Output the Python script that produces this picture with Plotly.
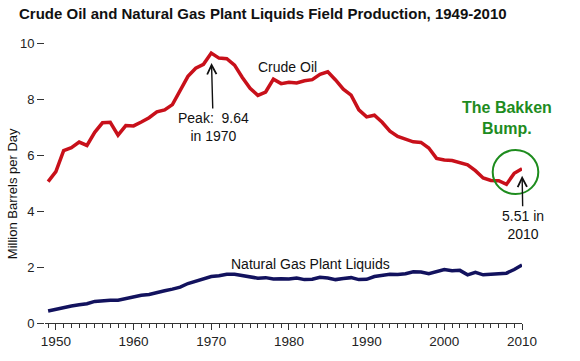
import plotly.graph_objects as go

years = list(range(1949, 2011))
crude_oil = [5.05, 5.41, 6.16, 6.26, 6.46, 6.34, 6.81, 7.15, 7.17, 6.71,
             7.05, 7.04, 7.18, 7.33, 7.54, 7.61, 7.80, 8.30, 8.81, 9.10,
             9.24, 9.64, 9.46, 9.44, 9.21, 8.77, 8.38, 8.13, 8.25, 8.71,
             8.55, 8.60, 8.57, 8.65, 8.69, 8.88, 8.97, 8.68, 8.35, 8.14,
             7.61, 7.36, 7.42, 7.17, 6.85, 6.66, 6.56, 6.47, 6.45, 6.25,
             5.88, 5.82, 5.80, 5.74, 5.65, 5.44, 5.18, 5.09, 5.08, 4.95,
             5.35, 5.51]
ngpl = [0.43, 0.50, 0.56, 0.61, 0.65, 0.69, 0.77, 0.80, 0.81, 0.81,
        0.88, 0.93, 0.99, 1.02, 1.10, 1.15, 1.21, 1.28, 1.41, 1.50,
        1.59, 1.66, 1.69, 1.74, 1.74, 1.69, 1.63, 1.60, 1.62, 1.57,
        1.58, 1.57, 1.61, 1.55, 1.56, 1.63, 1.61, 1.55, 1.59, 1.62,
        1.55, 1.56, 1.66, 1.70, 1.74, 1.73, 1.76, 1.83, 1.82, 1.76,
        1.85, 1.91, 1.87, 1.88, 1.72, 1.81, 1.72, 1.74, 1.78, 1.78,
        1.91, 2.07]
x_tick_vals = [1950, 1960, 1970, 1980, 1990, 2000, 2010]
y_tick_vals = [0, 2, 4, 6, 8, 10]

FONT = "Arial, Liberation Sans, sans-serif"
RED = "#C8101A"
NAVY = "#12125E"
GREEN = "#1E8C1E"

fig = go.Figure()
fig.add_trace(go.Scatter(x=years, y=crude_oil, mode="lines",
                         line=dict(color=RED, width=3.5), name="Crude Oil"))
fig.add_trace(go.Scatter(x=years, y=ngpl, mode="lines",
                         line=dict(color=NAVY, width=3.5),
                         name="Natural Gas Plant Liquids"))

fig.update_layout(
    width=580, height=361,
    margin=dict(l=45, r=58, t=43, b=32),
    paper_bgcolor="white", plot_bgcolor="white",
    showlegend=False,
    font=dict(family=FONT, color="#222222"),
    title=dict(text="<b>Crude Oil and Natural Gas Plant Liquids Field Production, 1949-2010</b>",
               x=19 / 580, xanchor="left", xref="container",
               y=1 - 14 / 361, yanchor="middle", yref="container",
               font=dict(size=15, family=FONT, color="#111111")),
    xaxis=dict(range=[1948.6, 2010], tickvals=x_tick_vals,
               ticks="outside", ticklen=6, tickcolor="#333333", tickwidth=1,
               showline=True, linecolor="#333333", linewidth=1,
               showgrid=False, zeroline=False,
               tickfont=dict(size=13.5, color="#222222"),
               minor=dict(dtick=1, tick0=1949, ticks="outside", ticklen=4,
                          tickcolor="#333333", showgrid=False)),
    yaxis=dict(range=[0, 10], tickvals=y_tick_vals,
               ticks="outside", ticklen=7, tickcolor="#333333", tickwidth=1,
               showline=False, showgrid=False, zeroline=False,
               tickfont=dict(size=13, color="#222222")),
)

annotations = [
    dict(text="Million Barrels per Day", xref="paper", yref="paper",
         x=(12 - 45) / 477, y=0.46, xanchor="center", yanchor="middle",
         textangle=-90, showarrow=False, font=dict(size=13, color="#111111")),
    dict(text="Crude Oil", x=1979.75, y=9.16, showarrow=False,
         font=dict(size=14, color="#111111")),
    dict(text="Natural Gas Plant Liquids", x=1982.8, y=2.12, showarrow=False,
         font=dict(size=14, color="#111111")),
    dict(text="Peak:\u00a0\u00a09.64<br>in 1970", x=1970, y=9.64,
         ax=2, ay=74, axref="pixel", ayref="pixel",
         showarrow=True, arrowhead=5, arrowsize=1.3, arrowwidth=1.4,
         arrowcolor="#111111", standoff=10, align="center",
         font=dict(size=14, color="#111111")),
    dict(text="5.51 in<br>2010", x=2010, y=5.51,
         ax=1, ay=56, axref="pixel", ayref="pixel",
         showarrow=True, arrowhead=5, arrowsize=1.3, arrowwidth=1.4,
         arrowcolor="#111111", standoff=7, align="center",
         font=dict(size=14, color="#111111")),
    dict(text="<b>The Bakken<br>Bump.</b>", x=2008.06, y=7.33, showarrow=False,
         align="center", font=dict(size=16, color=GREEN)),
]
fig.update_layout(annotations=annotations)

fig.add_shape(type="circle", xref="paper", yref="paper",
              x0=(492.7 - 45) / 477, x1=(538.3 - 45) / 477,
              y0=(329 - 197.3) / 286, y1=(329 - 152.3) / 286,
              line=dict(color=GREEN, width=2))

fig.write_html("out.html", config={"displayModeBar": False},
               post_script="document.body.style.margin='0';")
